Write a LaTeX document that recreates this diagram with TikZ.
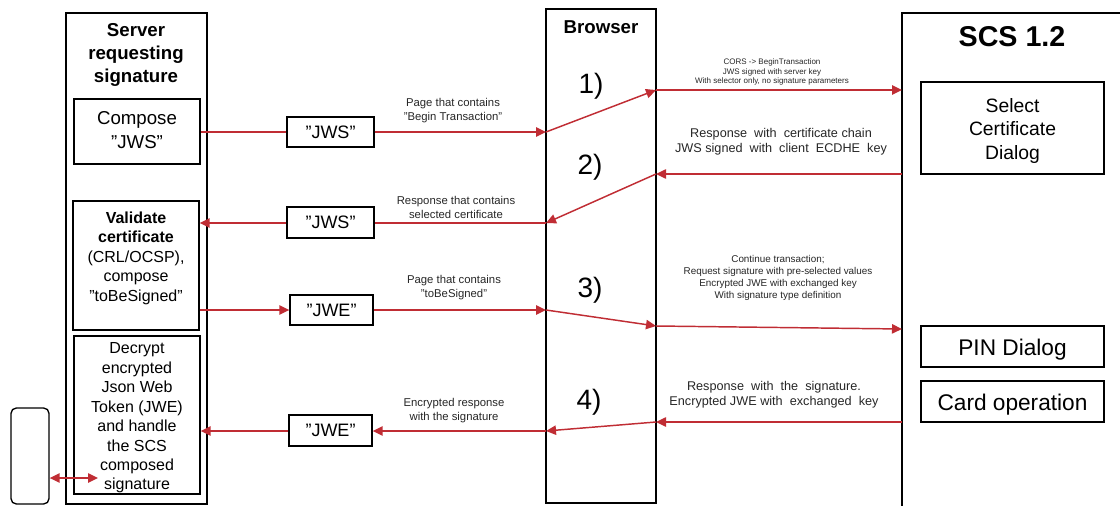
\documentclass[tikz,border=0pt]{standalone}
\usepackage{fontspec}
\setmainfont{Liberation Sans}
\usetikzlibrary{arrows.meta,fit}
\definecolor{arr}{RGB}{192,45,52}
\newcommand\myfs[2]{\fontsize{#1}{#2}\selectfont}
\begin{document}
\begin{tikzpicture}[x=0.75pt,y=-0.75pt,
  box/.style={draw=black,line width=1pt,inner sep=0pt},
  txt/.style={inner sep=0pt,align=center},
  conn/.style={draw=arr,line width=1.1pt},
  arw/.style={conn,-{Triangle[length=7.5pt,width=7pt]}},
  darw/.style={conn,{Triangle[length=7.5pt,width=7pt]}-{Triangle[length=7.5pt,width=7pt]}},
  lbl/.style={txt,font=\myfs{8.5}{10.5},text=black!85},
  num/.style={txt,font=\myfs{21}{24}},
  tok/.style={txt,font=\myfs{13.5}{16}}
]
\useasboundingbox (0,0) rectangle (1120,506);

% lanes
\node[box,fit={(66,13) (207,504)}] (server) {};
\node[box,fit={(546,9) (656,503)}] (browser) {};
\draw[line width=1pt] (902,515) -- (902,13) -- (1125,13);
\coordinate (scs) at (902,13);

% titles
\node[txt,font=\bfseries\myfs{14}{17.25}] (srvt) at (136,55) {Server\\requesting\\signature};
\node[txt,font=\bfseries\myfs{14}{17}] (brt) at (601,27) {Browser};
\node[txt,font=\bfseries\myfs{21.5}{24}] (scst) at (1012,37) {SCS 1.2};

% server boxes
\node[box,fit={(74,99) (200,164)}] (compose) {};
\node[txt,font=\myfs{14}{17.5}] (composet) at (137,130) {Compose\\”JWS”};
\node[box,fit={(73,201) (199,330)}] (validate) {};
\node[txt,font=\myfs{12}{14.6}] (validatet) at (136,258) {\textbf{Validate}\\\textbf{certificate}\\(CRL/OCSP),\\compose\\"toBeSigned"};
\node[box,fit={(74,336) (200,494)}] (decrypt) {};
\node[txt,font=\myfs{12}{14.6}] (decryptt) at (137,418) {Decrypt\\encrypted\\Json Web\\Token (JWE)\\and handle\\the SCS\\composed\\signature};
\node[box,rounded corners=4pt,fit={(11,408) (49,504)}] (ext) {};

% token boxes
\node[box,fit={(287,117) (374,147)}] (jws1) {};
\node[tok] at (jws1.center) {”JWS”};
\node[box,fit={(287,207) (374,238)}] (jws2) {};
\node[tok] at (jws2.center) {”JWS”};
\node[box,fit={(290,295) (373,325)}] (jwe1) {};
\node[tok] at (jwe1.center) {”JWE”};
\node[box,fit={(289,415) (372,446)}] (jwe2) {};
\node[tok] at (jwe2.center) {”JWE”};

% SCS boxes
\node[box,fit={(921,82) (1104,174)}] (selcert) {};
\node[txt,font=\myfs{14.5}{17.6}] at ([yshift=-2pt]selcert.center) {Select\\Certificate\\Dialog};
\node[box,fit={(921,326) (1104,367)}] (pin) {};
\node[txt,font=\myfs{17}{20}] at ([yshift=-2.2pt]pin.center) {PIN Dialog};
\node[box,fit={(921,381) (1104,422)}] (card) {};
\node[txt,font=\myfs{17}{20}] at ([yshift=-2.2pt]card.center) {Card operation};

% step numbers
\node[num] (n1) at (591,86) {1)};
\node[num] (n2) at (590,167) {2)};
\node[num] (n3) at (590,290) {3)};
\node[num] (n4) at (589,402) {4)};

% coordinates on lane edges
\coordinate (b1l) at (546,132);
\coordinate (b1r) at (656,90);
\coordinate (s1) at (902,90);
\coordinate (s2) at (902,174);
\coordinate (b2r) at (656,174);
\coordinate (b2l) at (546,223);
\coordinate (b3l) at (546,310);
\coordinate (b3r) at (656,326);
\coordinate (s3) at (902,329);
\coordinate (s4) at (902,422);
\coordinate (b4r) at (656,422);
\coordinate (b4l) at (546,431);
\coordinate (dend) at (98,478);

% step 1
\draw[conn] (compose.east |- b1l) -- (jws1.west |- b1l);
\draw[arw] (jws1.east |- b1l) -- (b1l);
\draw[arw] (b1l) -- (b1r);
\draw[arw] (b1r) -- (s1);
% step 2
\draw[arw] (s2) -- (b2r);
\draw[arw] (b2r) -- (b2l);
\draw[conn] (b2l) -- (jws2.east |- b2l);
\draw[arw] (jws2.west |- b2l) -- (validate.east |- b2l);
% step 3
\draw[arw] (validate.east |- b3l) -- (jwe1.west |- b3l);
\draw[arw] (jwe1.east |- b3l) -- (b3l);
\draw[arw] (b3l) -- (b3r);
\draw[arw] (b3r) -- (s3);
% step 4
\draw[arw] (s4) -- (b4r);
\draw[arw] (b4r) -- (b4l);
\draw[arw] (b4l) -- (jwe2.east |- b4l);
\draw[arw] (jwe2.west |- b4l) -- (decrypt.east |- b4l);
% external
\draw[darw] (ext.east |- dend) -- (dend);

% labels
\node[lbl] (l1) at (453,111) {Page that contains\\"Begin Transaction"};
\node[lbl] (l2) at (456,207) {Response that contains\\selected certificate};
\node[lbl] (l3) at (454,288) {Page that contains\\"toBeSigned"};
\node[lbl] (l4) at (454,411) {Encrypted response\\with the signature};
\node[txt,font=\myfs{6}{7.2},text=black!85] (r1) at (772,72) {CORS -> BeginTransaction\\JWS signed with server key\\With selector only, no signature parameters};
\node[txt,font=\myfs{9.5}{11.2},text=black!85] (r2) at (781,142) {Response \ with \ certificate chain\\JWS signed \ with \ client \ ECDHE \ key};
\node[txt,font=\myfs{7.4}{9},text=black!85] (r3) at (778,278) {Continue transaction;\\Request signature with pre-selected values\\Encrypted JWE with exchanged key\\With signature type definition};
\node[txt,font=\myfs{9.5}{11.2},text=black!85] (r4) at (774,395) {Response \ with \ the \ signature.\\Encrypted JWE with \ exchanged \ key};
\end{tikzpicture}
\end{document}
